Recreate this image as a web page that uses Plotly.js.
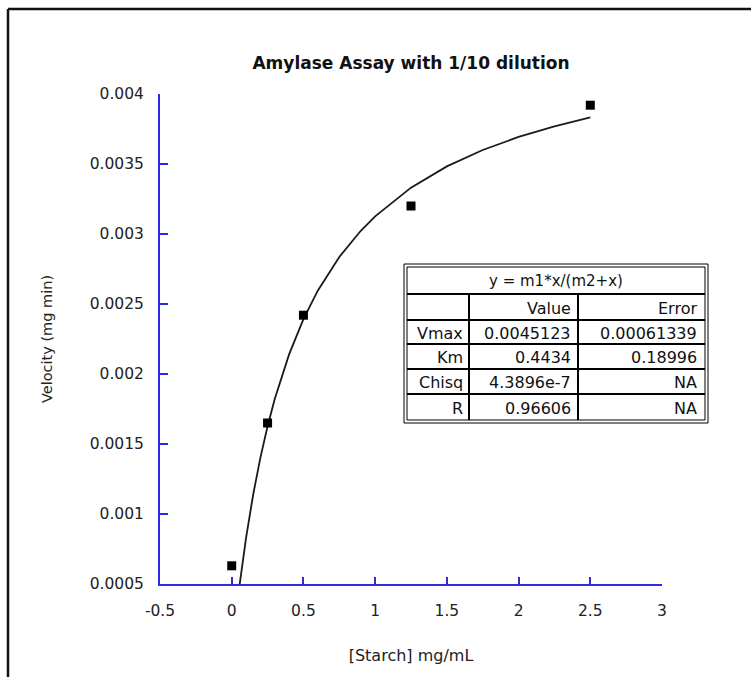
<!DOCTYPE html>
<html>
<head>
<meta charset="utf-8">
<script src="https://cdn.plot.ly/plotly-3.0.1.min.js"></script>
<style>html,body{margin:0;padding:0;background:#fff;}#chart{width:751px;height:677px;}</style>
</head>
<body>
<div id="chart"></div>
<script>
// Measured data points
var starch = [0, 0.25, 0.5, 1.25, 2.5];
var velocity = [0.00063, 0.00165, 0.00242, 0.0032, 0.00392];

// Fitted curve
var fitX = [0.05, 0.06, 0.1, 0.15, 0.2, 0.25, 0.3, 0.4, 0.5, 0.6, 0.75, 0.9, 1.0, 1.25, 1.5, 1.75, 2.0, 2.25, 2.5];
var fitY = [0.000457, 0.000538, 0.00083, 0.001141, 0.001403, 0.001627, 0.001821, 0.00214, 0.002392, 0.002595, 0.002836, 0.003023, 0.003126, 0.003331, 0.003483, 0.0036, 0.003693, 0.003769, 0.003833];

// Tick labels
var xTickVals = [-0.5, 0, 0.5, 1, 1.5, 2, 2.5, 3];
var xTickText = ["-0.5", "0", "0.5", "1", "1.5", "2", "2.5", "3"];
var yTickVals = [0.0005, 0.001, 0.0015, 0.002, 0.0025, 0.003, 0.0035, 0.004];
var yTickText = ["0.0005", "0.001", "0.0015", "0.002", "0.0025", "0.003", "0.0035", "0.004"];

// Fit results table
var tableTitle = "y = m1*x/(m2+x)";
var colHeaders = ["", "Value", "Error"];
var rowLabels = ["Vmax", "Km", "Chisq", "R"];
var fitValues = ["0.0045123", "0.4434", "4.3896e-7", "0.96606"];
var fitErrors = ["0.00061339", "0.18996", "NA", "NA"];

var W = 751, H = 677;
var M = {l: 160, r: 89, t: 94, b: 93};
var PW = W - M.l - M.r, PH = H - M.t - M.b;
function px(x) { return (x - M.l) / PW; }
function py(y) { return (H - M.b - y) / PH; }

var AX = '#2b2be0';
var FONT = '"DejaVu Sans", Verdana, sans-serif';

var shapes = [];
var annotations = [];
function line(x0, y0, x1, y1, w, c) {
  shapes.push({type: 'line', xref: 'paper', yref: 'paper', x0: px(x0), y0: py(y0), x1: px(x1), y1: py(y1),
    line: {color: c || '#000', width: w}});
}
function rect(x0, y0, x1, y1, w) {
  shapes.push({type: 'rect', xref: 'paper', yref: 'paper', x0: px(x0), y0: py(y0), x1: px(x1), y1: py(y1),
    line: {color: '#000', width: w}, fillcolor: 'rgba(0,0,0,0)'});
}
function text(t, x, y, anchor, size) {
  annotations.push({text: t, xref: 'paper', yref: 'paper', x: px(x), y: py(y), xanchor: anchor, yanchor: 'middle',
    showarrow: false, font: {family: FONT, size: size || 16, color: '#111'}});
}

// Outer figure frame (top and left edges)
line(8, 9, 751, 9, 2.5, '#111');
line(8, 9, 8, 677, 2.5, '#111');

// Table geometry
var tL = 404, tR = 708, tT = 264, tB = 423;
var iL = 407, iR = 705, iT = 267, iB = 420;
var colDiv = [469, 578];
var rowY = [294, 320, 344, 369, 394];
rect(tL, tT, tR, tB, 1);
rect(iL, iT, iR, iB, 1);
rowY.forEach(function (y) { line(iL, y, iR, y, 2); });
colDiv.forEach(function (x) { line(x, rowY[0], x, iB, 2); });

text(tableTitle, (iL + iR) / 2, (iT + rowY[0]) / 2, 'center', 15);
var rowsTop = rowY.concat([iB]);
var colRight = [colDiv[0] - 4, colDiv[1] - 5, iR - 6];
for (var c = 0; c < 3; c++) {
  if (colHeaders[c]) text(colHeaders[c], colRight[c], (rowsTop[0] + rowsTop[1]) / 2 + 1, 'right');
}
for (var r = 0; r < rowLabels.length; r++) {
  var yc = (rowsTop[r + 1] + rowsTop[r + 2]) / 2 + 1;
  text(rowLabels[r], colRight[0], yc, 'right');
  text(fitValues[r], colRight[1], yc, 'right');
  text(fitErrors[r], colRight[2], yc, 'right');
}

var traces = [
  {x: fitX, y: fitY, type: 'scatter', mode: 'lines', line: {color: '#1a1a1a', width: 1.8}, hoverinfo: 'skip', showlegend: false},
  {x: starch, y: velocity, type: 'scatter', mode: 'markers', marker: {symbol: 'square', size: 9, color: '#000'}, showlegend: false, cliponaxis: false}
];

var layout = {
  width: W, height: H,
  margin: M,
  paper_bgcolor: '#fff', plot_bgcolor: '#fff',
  showlegend: false,
  title: {text: '<b>Amylase Assay with 1/10 dilution</b>', font: {family: FONT, size: 17, color: '#111'},
    xref: 'paper', x: 0.5, xanchor: 'center', yref: 'container', y: 1 - 63 / H, yanchor: 'middle'},
  xaxis: {
    range: [-0.5, 3], tickvals: xTickVals, ticktext: xTickText,
    ticks: 'inside', ticklen: 7, tickwidth: 2, tickcolor: AX,
    showline: true, linecolor: AX, linewidth: 2, showgrid: false, zeroline: false,
    tickfont: {family: FONT, size: 15.5, color: '#222'}, ticklabelstandoff: 11,
    title: {text: '[Starch] mg/mL', font: {family: FONT, size: 16, color: '#222'}, standoff: 31},
    fixedrange: true
  },
  yaxis: {
    range: [0.0005, 0.004], tickvals: yTickVals, ticktext: yTickText,
    ticks: 'inside', ticklen: 8, tickwidth: 2, tickcolor: AX,
    showline: true, linecolor: AX, linewidth: 2, showgrid: false, zeroline: false,
    tickfont: {family: FONT, size: 15.5, color: '#222'}, ticklabelstandoff: 11,
    title: {text: 'Velocity (mg min)', font: {family: FONT, size: 14.5, color: '#222'}, standoff: 34},
    fixedrange: true
  },
  shapes: shapes,
  annotations: annotations
};

Plotly.newPlot('chart', traces, layout, {staticPlot: true, displayModeBar: false});
</script>
</body>
</html>
